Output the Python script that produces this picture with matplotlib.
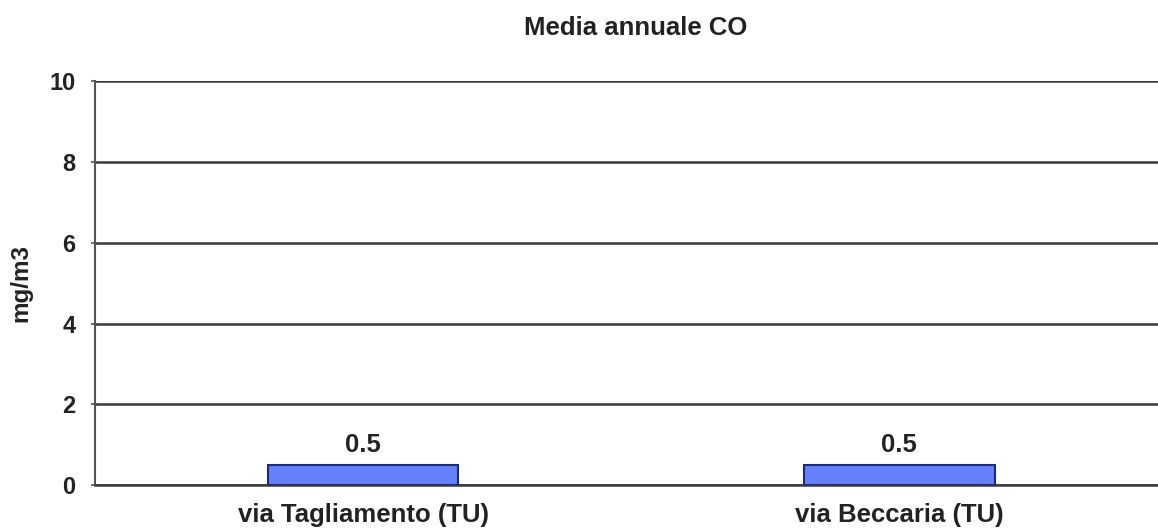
import matplotlib.pyplot as plt

stazioni = ["via Tagliamento (TU)", "via Beccaria (TU)"]
media_co = [0.5, 0.5]
y_ticks = [0, 2, 4, 6, 8, 10]

plt.rcParams['font.family'] = ['Liberation Sans', 'DejaVu Sans']
plt.rcParams['font.weight'] = 'bold'

fig = plt.figure(figsize=(11.58, 5.32), dpi=100)
ax = fig.add_axes([0.082, 0.088, 0.926, 0.759])

x = range(len(stazioni))
bars = ax.bar(x, media_co, width=0.356, color="#6480fa", edgecolor="#1c2a78",
              linewidth=1.5, zorder=3)
for b, v in zip(bars, media_co):
    ax.text(b.get_x() + b.get_width() / 2, v + 0.2, f"{v:.1f}",
            ha="center", va="bottom", fontsize=18.5, fontweight="bold",
            color="#222222")

ax.set_xlim(-0.5, 1.5)
ax.set_ylim(0, 10)
ax.set_yticks(y_ticks)
ax.set_xticks(list(x))
ax.set_xticklabels(stazioni, fontsize=18.5, fontweight="bold", color="#222222")
ax.tick_params(axis="y", labelsize=17, length=3, width=1.2, color="#555555",
               pad=11, labelcolor="#222222")
ax.tick_params(axis="x", length=0, pad=13)
ax.yaxis.grid(True, color="#3a3a3a", linewidth=1.8, zorder=0)
ax.set_axisbelow(True)

for s in ["top", "right"]:
    ax.spines[s].set_visible(False)
ax.spines["left"].set_color("#555555")
ax.spines["left"].set_linewidth(1.5)
ax.spines["bottom"].set_color("#3a3a3a")
ax.spines["bottom"].set_linewidth(1.8)

ax.set_ylabel("mg/m3", fontsize=17.5, fontweight="bold", labelpad=12,
              color="#222222")
fig.text(0.549, 0.947, "Media annuale CO", ha="center", va="center",
         fontsize=18.5, fontweight="bold", color="#222222")

fig.savefig("out.png", dpi=100)
